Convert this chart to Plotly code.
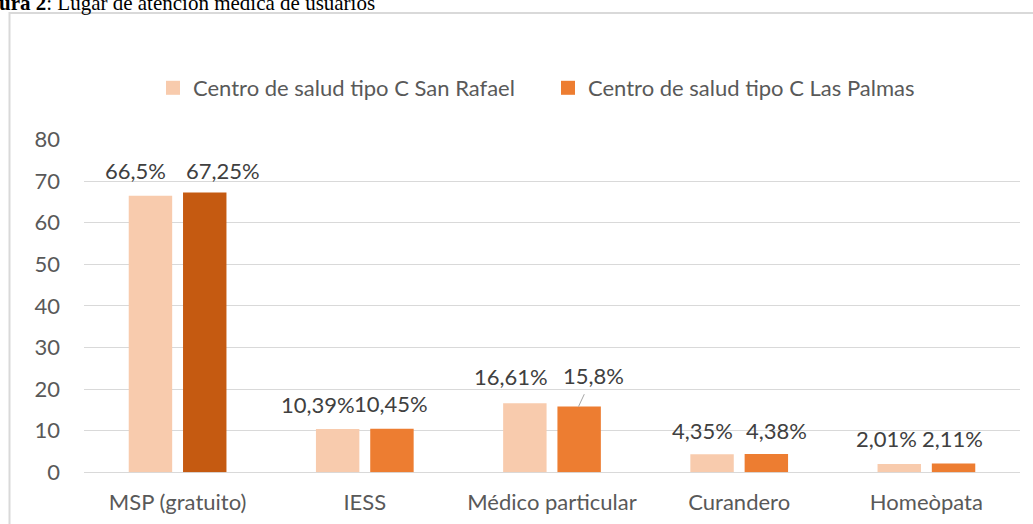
import plotly.graph_objects as go

W, H = 1033, 524

categories = ["MSP (gratuito)", "IESS", "Médico particular", "Curandero", "Homeòpata"]
series_names = ["Centro de salud tipo C San Rafael", "Centro de salud tipo C Las Palmas"]
san_rafael = [66.5, 10.39, 16.61, 4.35, 2.01]
las_palmas = [67.25, 10.45, 15.8, 4.38, 2.11]
san_rafael_labels = ["66,5%", "10,39%", "16,61%", "4,35%", "2,01%"]
las_palmas_labels = ["67,25%", "10,45%", "15,8%", "4,38%", "2,11%"]
y_ticks = [0, 10, 20, 30, 40, 50, 60, 70, 80]

PEACH = "#F8CBAD"
ORANGE = "#ED7D31"
DARK_ORANGE = "#C55A11"
GRID = "#D9D9D9"
AXIS_TXT = "#595959"
LABEL_TXT = "#404040"
FONT = "Lato, 'Open Sans', sans-serif"
FS = 22

# plot area in pixels
PL, PR, PT, PB = 84, 1020, 139.5, 472.3

fig = go.Figure()
fig.add_trace(go.Bar(
    x=categories, y=san_rafael, name=series_names[0],
    marker=dict(color=PEACH, line=dict(width=0)), showlegend=False,
))
orange_colors = [DARK_ORANGE] + [ORANGE] * (len(categories) - 1)
fig.add_trace(go.Bar(
    x=categories, y=las_palmas, name=series_names[1],
    marker=dict(color=orange_colors, line=dict(width=0)), showlegend=False,
))
# legend entries
for nm, col in zip(series_names, [PEACH, ORANGE]):
    fig.add_trace(go.Scatter(
        x=[None], y=[None], mode="markers", name=nm,
        marker=dict(symbol="square", size=14, color=col),
    ))

# data labels (positioned like the Excel original)
BAR_OFF = 26.5
sr_dx = [-16, -20, -14.5, -10, -13]
lp_dx = [18.6, 0, 14.5, 10.7, 0]
sr_dy = [25, 25, 27, 24, 25]
lp_dy = [22, 25, 31, 24, 25]
for i, c in enumerate(categories):
    fig.add_annotation(x=c, y=san_rafael[i], text=san_rafael_labels[i], showarrow=False,
                       xshift=-BAR_OFF + sr_dx[i], yshift=sr_dy[i], yanchor="middle",
                       font=dict(family=FONT, size=FS, color=LABEL_TXT))
    if las_palmas_labels[i] == "15,8%":
        fig.add_annotation(x=c, y=las_palmas[i], text=las_palmas_labels[i], showarrow=True,
                           arrowhead=0, arrowwidth=1, arrowcolor="#A6A6A6",
                           ax=lp_dx[i], ay=-lp_dy[i], xshift=BAR_OFF, standoff=0,
                           startstandoff=4,
                           font=dict(family=FONT, size=FS, color=LABEL_TXT))
    else:
        fig.add_annotation(x=c, y=las_palmas[i], text=las_palmas_labels[i], showarrow=False,
                           xshift=BAR_OFF + lp_dx[i], yshift=lp_dy[i], yanchor="middle",
                           font=dict(family=FONT, size=FS, color=LABEL_TXT))

# caption (cut at the top edge, as in the source image)
fig.add_annotation(xref="paper", yref="paper", x=-3 / W, y=(H - 3) / H, xanchor="left", yanchor="middle",
                   text="<b>ura 2</b>: Lugar de atención médica de usuarios", showarrow=False,
                   font=dict(family="'Liberation Serif', 'Times New Roman', serif", size=21, color="#000000"))

# chart frame
fig.add_shape(type="rect", xref="paper", yref="paper",
              x0=9.5 / W, x1=1.02, y0=(H - 13) / H, y1=-0.03,
              line=dict(color=GRID, width=2), fillcolor="rgba(0,0,0,0)", layer="below")

fig.update_layout(
    width=W, height=H,
    margin=dict(l=0, r=0, t=0, b=0, autoexpand=False),
    paper_bgcolor="white", plot_bgcolor="white",
    barmode="group", bargap=0.42, bargroupgap=0.2,
    font=dict(family=FONT, size=FS, color=AXIS_TXT),
    xaxis=dict(domain=[PL / W, PR / W], showgrid=False, showline=False, zeroline=False,
               ticks="", ticklabelstandoff=15, tickfont=dict(size=FS, color=AXIS_TXT),
               automargin=False, fixedrange=True),
    yaxis=dict(domain=[1 - PB / H, 1 - PT / H], range=[0, 80], tickvals=y_ticks,
               showgrid=True, gridcolor=GRID, gridwidth=1, zeroline=True, zerolinecolor=GRID,
               zerolinewidth=1, showline=False, ticks="", ticklabelstandoff=23,
               tickfont=dict(size=FS, color=AXIS_TXT), automargin=False, fixedrange=True),
    legend=dict(orientation="h", x=153 / W, xanchor="left", y=(H - 88) / H, yanchor="middle",
                font=dict(family=FONT, size=FS, color=AXIS_TXT), bgcolor="rgba(0,0,0,0)",
                entrywidth=350, itemsizing="trace"),
    showlegend=True,
)

fig.write_html("out.html", config={"displayModeBar": False},
               post_script="document.body.style.margin='0px';document.body.style.overflow='hidden';")
